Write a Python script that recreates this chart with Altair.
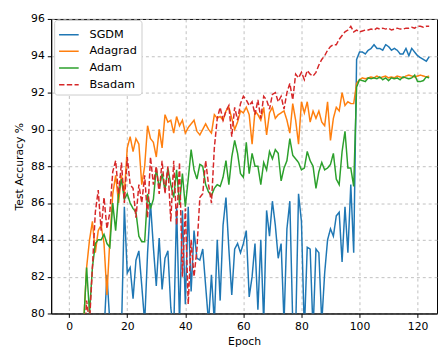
import altair as alt
import pandas as pd

epochs = list(range(125))

sgdm = [70, 72, 74, 75, 76, 77, 77.5, 78, 78, 78.5, 79, 78.5, 79, 82.1, 79.5, 78, 78, 78.5, 79, 85.8,
        82.2, 82.5, 80.8, 82.9, 83.4, 81.5, 79.5, 83.3, 86.0, 83.6, 81.5, 84.1, 81.3, 83.0, 83.4, 80.3, 79.0, 85.8, 79.5, 85.6,
        80.5, 85.8, 81.2, 84.5, 83.0, 82.9, 83.5, 81.5, 79.5, 82.1, 79.5, 84.0, 80.7, 84.8, 86.3, 83.5, 81.0, 83.5, 83.8, 83.3,
        83.8, 84.5, 80.9, 82.0, 83.8, 80.2, 84.0, 79.5, 85.6, 84.2, 86.1, 84.8, 83.0, 83.8, 79.5, 84.6, 86.1, 79.5, 79.0, 86.5,
        85.0, 79.0, 83.6, 83.5, 79.0, 83.5, 83.3, 79.5, 82.2, 84.0, 84.6, 84.2, 85.3, 85.5, 82.8, 85.8, 83.3, 87.0, 83.3, 93.8,
        94.2, 94.2, 94.1, 94.3, 94.4, 94.6, 94.4, 94.4, 94.3, 94.6, 94.5, 94.3, 94.4, 94.3, 94.1, 94.1, 94.4, 94.0, 94.4, 94.2,
        94.0, 93.9, 93.8, 93.7, 93.95]

adagrad = [72, 74, 76, 77, 78, 79.5, 82.5, 84.0, 85.0, 83.3, 84.5, 84.8, 83.8, 81.0, 84.0, 86.5, 87.5, 86.0, 87.5, 86.5,
           89.0, 89.6, 88.8, 89.5, 89.2, 87.0, 88.0, 90.2, 89.5, 89.3, 88.5, 90.0, 89.0, 90.8, 90.4, 90.5, 89.8, 90.7, 90.2, 90.5,
           89.8, 90.1, 90.3, 90.5, 89.9, 89.7, 90.0, 90.3, 90.0, 89.8, 90.8, 90.6, 90.7, 90.5, 91.0, 91.2, 90.6, 90.0, 90.4, 91.0,
           90.9, 91.2, 90.8, 89.2, 91.0, 90.8, 90.5, 91.2, 89.7, 90.9, 91.2, 90.6, 90.8, 90.9, 91.0, 90.5, 89.8, 91.4, 90.5, 89.2,
           91.5, 90.9, 91.5, 90.4, 91.0, 90.6, 91.0, 90.4, 90.2, 91.5, 89.4, 90.6, 91.2, 91.0, 92.0, 91.3, 91.5, 91.4, 91.4, 92.5,
           92.7, 92.8, 92.75, 92.8, 92.85, 92.8, 92.9, 92.8, 92.85, 92.9, 92.8, 92.85, 92.8, 92.9, 92.85, 92.8, 92.9, 92.95, 92.9, 92.85,
           92.9, 92.95, 92.9, 92.85, 92.9]

adam = [70, 72, 74, 76, 78, 79.5, 82.5, 80.0, 82.5, 83.8, 84.0, 84.0, 84.3, 83.8, 83.6, 86.0, 84.5, 86.5, 87.3, 86.2,
        86.5, 86.0, 85.7, 85.5, 84.2, 83.9, 83.9, 86.5, 85.7, 86.2, 87.9, 86.8, 87.6, 86.7, 87.9, 87.0, 86.3, 87.8, 85.9, 87.6,
        85.8, 87.3, 88.9, 87.8, 87.3, 88.1, 88.0, 87.0, 86.6, 86.4, 86.8, 87.0, 86.9, 87.4, 88.3, 87.0, 88.5, 89.4, 88.7, 87.6,
        87.4, 89.3, 87.6, 88.7, 88.0, 88.0, 87.0, 88.2, 87.8, 88.8, 88.4, 88.9, 88.7, 87.2, 87.9, 88.3, 89.5, 88.6, 88.4, 88.2,
        87.8, 87.9, 88.8, 88.3, 88.0, 86.8, 87.7, 88.2, 87.8, 87.9, 88.1, 88.7, 87.3, 87.0, 88.8, 89.9, 87.9, 87.9, 86.9, 92.3,
        92.7, 92.65, 92.6, 92.8, 92.75, 92.8, 92.75, 92.85, 92.7, 92.8, 92.65, 92.8, 92.75, 92.8, 92.7, 92.85, 92.8, 92.75, 92.8, 92.95,
        92.6, 92.6, 92.65, 92.85, 92.8]

bsadam = [68, 70, 72, 74, 76, 78, 80.7, 79.5, 82.5, 85.5, 86.7, 84.5, 86.3, 84.6, 85.5, 87.7, 88.3, 86.5, 88.2, 86.0,
          88.5, 87.0, 86.8, 85.2, 87.0, 86.0, 87.5, 85.2, 88.5, 87.0, 88.0, 86.5, 88.3, 86.5, 88.0, 85.0, 88.3, 84.8, 88.2, 82.0,
          85.7, 80.5, 84.0, 82.0, 83.5, 86.3, 86.5, 88.3, 87.0, 86.0, 89.0, 90.6, 91.2, 90.5, 91.0, 91.3, 89.6, 91.2, 90.5, 91.4,
          91.8, 91.6, 91.3, 91.5, 90.8, 91.6, 90.6, 91.8, 91.6, 91.1, 91.9, 92.0, 91.5, 91.8, 91.1, 92.0, 92.5, 91.6, 93.0, 92.8,
          93.1, 92.7, 93.2, 93.0, 92.9, 93.1, 93.5, 93.8, 94.0, 94.3, 94.5, 94.6, 94.6, 94.9, 95.1, 95.3, 95.4, 95.6, 95.3, 95.4,
          95.3, 95.35, 95.4, 95.4, 95.45, 95.4, 95.5, 95.45, 95.5, 95.45, 95.5, 95.4, 95.45, 95.5, 95.45, 95.45, 95.5, 95.5, 95.55, 95.5,
          95.6, 95.6, 95.55, 95.6, 95.6]

names = ["SGDM", "Adagrad", "Adam", "Bsadam"]
colors = ["#1f77b4", "#ff7f0e", "#2ca02c", "#d62728"]
dashes = [[1, 0], [1, 0], [1, 0], [5.5, 2.4]]
x_ticks = [0, 20, 40, 60, 80, 100, 120]
y_ticks = [80, 82, 84, 86, 88, 90, 92, 94, 96]

rows = []
for name, vals in zip(names, [sgdm, adagrad, adam, bsadam]):
    for e, v in zip(epochs, vals):
        rows.append({"epoch": e, "acc": v, "series": name})
df = pd.DataFrame(rows)

font = "DejaVu Sans"

chart = alt.Chart(df).mark_line(clip=True, strokeWidth=1.5).encode(
    x=alt.X("epoch:Q",
            scale=alt.Scale(domain=[-6.2, 126.7], nice=False, zero=False),
            axis=alt.Axis(values=x_ticks, title="Epoch", format="d")),
    y=alt.Y("acc:Q",
            scale=alt.Scale(domain=[80, 96], nice=False, zero=False),
            axis=alt.Axis(values=y_ticks, title="Test Accuracy %", format="d")),
    color=alt.Color("series:N", title=None,
                    scale=alt.Scale(domain=names, range=colors),
                    sort=names),
    strokeDash=alt.StrokeDash("series:N", title=None,
                              scale=alt.Scale(domain=names, range=dashes),
                              sort=names),
    order=alt.Order("epoch:Q"),
).properties(
    width=393,
    height=300,
    padding={"left": 44, "top": 8, "right": 1, "bottom": 32},
    autosize=alt.AutoSizeParams(type="none"),
).configure_view(
    stroke="black", strokeWidth=1
).configure_axis(
    grid=True,
    gridColor="#b0b0b0",
    gridDash=[3, 3],
    gridWidth=0.8,
    domainColor="black",
    tickColor="black",
    tickSize=4,
    labelFont=font,
    labelFontSize=11,
    labelColor="black",
    titleFont=font,
    titleFontSize=11,
    titleFontWeight="normal",
    titleColor="black",
    labelPadding=3,
).configure_axisX(
    titlePadding=5,
).configure_axisY(
    titlePadding=6,
).configure_legend(
    orient="none",
    legendX=3,
    legendY=1,
    padding=4,
    fillColor="white",
    strokeColor="#cccccc",
    cornerRadius=3,
    symbolType="stroke",
    symbolSize=400,
    symbolStrokeWidth=1.5,
    labelFont=font,
    labelFontSize=11.5,
    labelColor="black",
    rowPadding=-3.3,
    labelOffset=10,
)

chart.save("out.html", embed_options={"renderer": "svg", "actions": False})
